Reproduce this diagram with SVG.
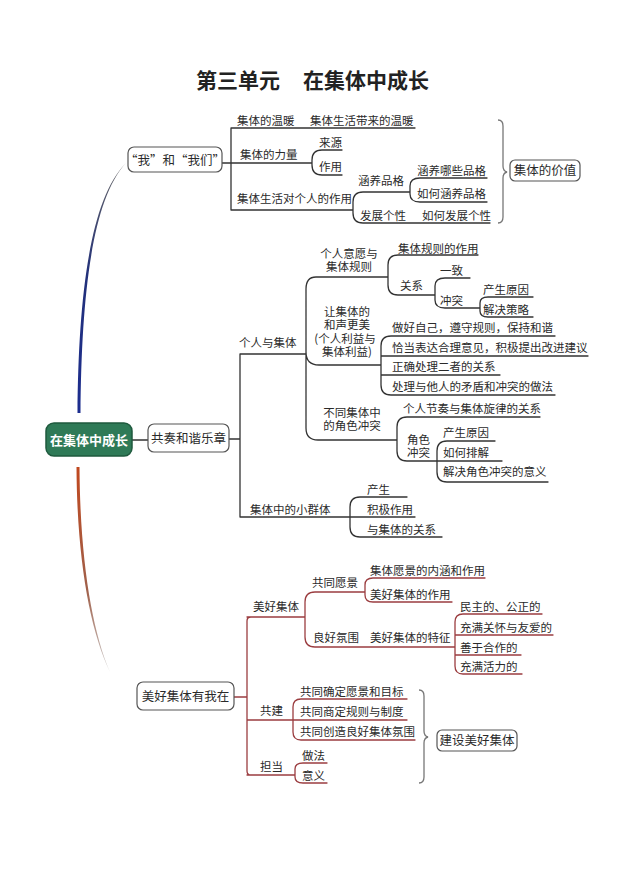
<svg xmlns="http://www.w3.org/2000/svg" width="640" height="895" viewBox="0 0 640 895">
<style>
.t{font-family:"Noto Sans CJK SC","Noto Sans",sans-serif;font-size:11.5px;fill:#2a2a2a}
.c{text-anchor:middle}
.bt{font-family:"Noto Sans CJK SC","Noto Sans",sans-serif;font-size:12.5px;fill:#2a2a2a;text-anchor:middle}
.box{fill:#fff;stroke:#555;stroke-width:1.2}
.ln{fill:none;stroke:#333;stroke-width:1.3;stroke-linecap:round}
.lr{fill:none;stroke:#9b3d40;stroke-width:1.3;stroke-linecap:round}
.br{fill:none;stroke:#777;stroke-width:1.3}
.ttl{font-family:"Noto Sans CJK SC",sans-serif;font-size:21px;font-weight:bold;fill:#222}
</style>
<defs>
<linearGradient id="gb" x1="0" y1="1" x2="0" y2="0">
<stop offset="0" stop-color="#1c2d8f"/><stop offset="0.55" stop-color="#22307a"/><stop offset="1" stop-color="#666"/>
</linearGradient>
<linearGradient id="go" x1="0" y1="0" x2="0" y2="1">
<stop offset="0" stop-color="#c0481f"/><stop offset="0.6" stop-color="#a0604a"/><stop offset="1" stop-color="#ccc"/>
</linearGradient>
</defs>
<rect width="640" height="895" fill="#fff"/>
<g id="title">
<text class="ttl" x="196" y="88">第三单元</text>
<text class="ttl" x="303" y="88">在集体中成长</text>
</g>
<g id="connectors">
<path d="M77.5 413 C78.5 300 89 200 126 163 C91 201 81.5 300 80.5 413 Z" fill="url(#gb)"/>
<path d="M76.5 467 C77 560 90 630 110 672 C92 630 80 560 79.5 467 Z" fill="url(#go)"/>
<path class="ln" d="M222 163 H231 M231 128 V210 M231 128 H415 M231 163 H312 M322 150 Q312 150 312 160 V165 Q312 175 322 175 M322 150 H342 M322 175 H342 M231 210 H353 M363 192 Q353 192 353 202 V213 Q353 223 363 223 M363 192 H410 M363 223 H490 M420 178 Q410 178 410 186 V194 Q410 202 420 202 M420 178 H487 M420 202 H487"/>
<path class="br" d="M498 120 Q503 120 503 126 V166 Q503 171 507 172 Q503 173 503 178 V217 Q503 223 498 223"/>
<path class="ln" style="stroke-width:1.6" d="M132 440 H148"/>
<path class="ln" d="M229 439 H240 M240 354 V517 M240 354 H306 M240 517 H415 M316 277 Q306 277 306 289 V428 Q306 440 318 440 H397 M316 277 H388 M398 255 Q388 255 388 265 V285 Q388 295 398 295 M398 255 H478 M398 295 H435 M445 278 Q435 278 435 286 V300 Q435 308 445 308 M445 278 H470 M445 308 H480 M488 297 Q480 297 480 303 V311 Q480 317 488 317 M488 297 H533 M488 317 H533 M306 352 Q306 365 319 365 H381 M391 336 Q381 336 381 346 V385 Q381 395 391 395 M391 336 H555 M381 356 H588 M381 375 H500 M391 395 H555 M407 417 Q397 417 397 427 V451 Q397 461 407 461 M407 417 H540 M407 461 H502 M447 441 Q437 441 437 451 V472 Q437 482 447 482 M447 441 H495 M447 482 H548 M360 497 Q350 497 350 507 V527 Q350 537 360 537 M360 497 H407 M360 537 H442"/>
<path class="lr" d="M234 697 H247 M251 617 Q247 617 247 621 V771 Q247 775 251 775 M247 617 H305 M315 592 Q305 592 305 602 V637 Q305 647 315 647 M315 592 H365 M315 647 H455 M373 578 Q365 578 365 585 V595 Q365 602 373 602 M373 578 H485 M373 602 H452 M463 614 Q455 614 455 622 V666 Q455 674 463 674 M463 614 H542 M455 635 H553 M455 655 H521 M463 674 H522 M247 720 H407 M301 699 Q293 699 293 707 V732 Q293 740 301 740 M301 699 H407 M301 740 H415 M247 775 H295 M303 763 Q295 763 295 769 V777 Q295 783 303 783 M303 763 H327 M303 783 H327"/>
<path class="br" d="M419 690 Q424 690 424 696 V731 Q424 736 428 737 Q424 738 424 743 V777 Q424 783 419 783"/>
</g>
<g id="root">
<rect x="46" y="423" width="86" height="33" rx="8" fill="#2f7a57" stroke="#1f5a3e" stroke-width="1.5"/>
<text x="89" y="444.5" style="font-family:'Noto Sans CJK SC',sans-serif;font-size:13px;font-weight:bold;fill:#fff;text-anchor:middle">在集体中成长</text>
</g>
<g id="n-wo">
<rect class="box" x="128" y="147" width="94" height="25" rx="6"/>
<text class="bt" x="175" y="164.5">“我”和“我们”</text>
</g>
<g id="n-top-labels">
<text class="t" x="237" y="125">集体的温暖</text>
<text class="t" x="310" y="125">集体生活带来的温暖</text>
<text class="t" x="240" y="159">集体的力量</text>
<text class="t" x="319" y="147">来源</text>
<text class="t" x="319" y="171">作用</text>
<text class="t" x="237" y="203">集体生活对个人的作用</text>
<text class="t" x="358" y="185">涵养品格</text>
<text class="t" x="417" y="175">涵养哪些品格</text>
<text class="t" x="417" y="198">如何涵养品格</text>
<text class="t" x="360" y="220">发展个性</text>
<text class="t" x="422" y="220">如何发展个性</text>
</g>
<g id="n-value">
<rect class="box" x="510" y="160" width="70" height="21" rx="5"/>
<text class="bt" x="545" y="175">集体的价值</text>
</g>
<g id="n-gongzou">
<rect class="box" x="148" y="424" width="81" height="28" rx="6"/>
<text class="bt" x="188.5" y="442.5">共奏和谐乐章</text>
</g>
<g id="n-mid-labels">
<text class="t" x="239" y="347">个人与集体</text>
<text class="t c" y="258"><tspan x="349">个人意愿与</tspan><tspan x="349" dy="13">集体规则</tspan></text>
<text class="t" x="398" y="253">集体规则的作用</text>
<text class="t" x="400" y="290">关系</text>
<text class="t" x="440" y="275">一致</text>
<text class="t" x="440" y="305">冲突</text>
<text class="t" x="483" y="294">产生原因</text>
<text class="t" x="483" y="314">解决策略</text>
<text class="t c" y="316"><tspan x="347">让集体的</tspan><tspan x="347" dy="13">和声更美</tspan><tspan x="345" dy="14">(个人利益与</tspan><tspan x="347" dy="13">集体利益)</tspan></text>
<text class="t" x="392" y="332">做好自己，遵守规则，保持和谐</text>
<text class="t" x="392" y="352">恰当表达合理意见，积极提出改进建议</text>
<text class="t" x="392" y="371">正确处理二者的关系</text>
<text class="t" x="392" y="391">处理与他人的矛盾和冲突的做法</text>
<text class="t c" y="417"><tspan x="352">不同集体中</tspan><tspan x="352" dy="13">的角色冲突</tspan></text>
<text class="t" x="403" y="413">个人节奏与集体旋律的关系</text>
<text class="t" y="444"><tspan x="407">角色</tspan><tspan x="407" dy="13">冲突</tspan></text>
<text class="t" x="443" y="437">产生原因</text>
<text class="t" x="443" y="457">如何排解</text>
<text class="t" x="443" y="476">解决角色冲突的意义</text>
<text class="t" x="250" y="514">集体中的小群体</text>
<text class="t" x="367" y="494">产生</text>
<text class="t" x="367" y="514">积极作用</text>
<text class="t" x="367" y="534">与集体的关系</text>
</g>
<g id="n-meihao">
<rect class="box" x="137" y="682" width="97" height="28" rx="6"/>
<text class="bt" x="185.5" y="700.5">美好集体有我在</text>
</g>
<g id="n-bottom-labels">
<text class="t" x="253" y="611">美好集体</text>
<text class="t" x="312" y="587">共同愿景</text>
<text class="t" x="370" y="575">集体愿景的内涵和作用</text>
<text class="t" x="370" y="599">美好集体的作用</text>
<text class="t" x="313" y="642">良好氛围</text>
<text class="t" x="370" y="642">美好集体的特征</text>
<text class="t" x="460" y="611">民主的、公正的</text>
<text class="t" x="460" y="632">充满关怀与友爱的</text>
<text class="t" x="460" y="652">善于合作的</text>
<text class="t" x="460" y="671">充满活力的</text>
<text class="t" x="260" y="715">共建</text>
<text class="t" x="300" y="696">共同确定愿景和目标</text>
<text class="t" x="300" y="716">共同商定规则与制度</text>
<text class="t" x="300" y="736">共同创造良好集体氛围</text>
<text class="t" x="260" y="771">担当</text>
<text class="t" x="302" y="760">做法</text>
<text class="t" x="302" y="780">意义</text>
</g>
<g id="n-build">
<rect class="box" x="437" y="730" width="80" height="21" rx="5"/>
<text class="bt" x="477" y="745">建设美好集体</text>
</g>
</svg>
